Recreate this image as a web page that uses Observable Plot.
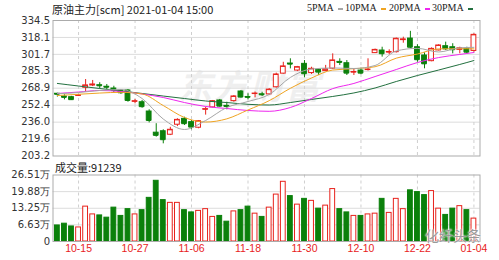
<!DOCTYPE html>
<html><head><meta charset="utf-8">
<script src="https://cdn.jsdelivr.net/npm/d3@7"></script>
<script src="https://cdn.jsdelivr.net/npm/@observablehq/plot@0.6"></script>
<style>
body{margin:0;background:#fff;}
#wrap{position:relative;width:499px;height:260px;overflow:hidden;background:#fff;}
.abs{position:absolute;white-space:nowrap;}
#wrap svg{position:absolute;left:0;background:transparent;}
.dash{display:inline-block;width:5px;height:2px;vertical-align:middle;margin-left:4px;}
</style></head><body><div id="wrap"></div>
<script>
// ---- data ----
const openP  = [263.5,260.8,260.2,261.5,269.3,271.5,271.8,270.3,268.6,266.5,266.7,255.8,255.3,246.3,225.8,227.2,223.8,233.5,239.2,236.0,230.6,248.2,250.3,257.0,251.8,256.4,265.7,260.4,263.3,263.0,262.9,269.8,283.0,292.8,286.0,292.5,283.6,286.7,285.5,287.8,294.4,293.1,284.2,286.0,286.5,302.9,305.4,303.6,303.8,315.5,317.0,308.6,300.6,295.1,305.5,309.6,308.6,306.0,307.0,305.0];
const highP  = [264.0,262.5,261.0,262.5,277.3,276.4,274.2,272.5,270.8,267.5,267.6,258.0,257.0,248.0,234.5,228.6,231.0,239.3,240.8,237.6,237.6,250.5,257.0,258.0,255.3,261.8,266.7,263.5,265.2,265.0,268.5,283.5,294.0,297.4,290.0,295.7,289.2,287.0,291.0,302.2,297.4,295.7,287.7,288.3,297.4,306.8,308.6,306.1,317.5,318.3,324.0,311.0,303.2,308.0,311.0,313.5,312.0,308.6,308.6,321.6];
const lowP   = [260.3,257.6,257.0,261.0,264.8,270.5,268.3,267.3,264.8,263.0,255.3,253.8,249.5,235.3,221.5,215.0,223.0,231.7,232.8,228.6,229.6,242.8,249.8,250.5,248.0,255.3,259.4,257.7,259.6,260.9,262.0,269.0,282.5,287.6,285.0,279.0,282.2,281.2,285.0,287.0,290.9,281.2,281.2,282.0,285.5,302.5,299.0,301.3,303.0,312.5,307.5,294.0,287.7,294.5,305.0,305.4,302.2,302.2,302.2,303.8];
const closeP = [263.0,260.0,257.8,262.0,271.6,272.5,271.2,269.8,266.7,264.5,257.0,256.3,251.0,237.6,223.2,219.0,228.6,238.2,234.5,231.2,236.9,248.6,256.3,251.5,251.2,260.9,260.3,260.0,263.7,262.5,267.5,282.2,290.0,292.2,289.3,282.9,287.7,284.5,287.2,295.8,293.8,283.5,284.6,283.5,287.0,306.0,302.3,304.0,316.8,316.2,308.6,296.5,292.5,307.0,310.3,307.0,306.2,307.5,303.8,320.6];
// volume in 万 (10,000 lots)
const volume = [6.4,7.1,6.0,5.6,13.9,10.8,10.4,9.5,13.5,10.2,12.9,10.8,12.5,17.4,24.2,16.5,15.4,15.4,12.5,11.6,12.2,12.9,9.8,10.2,7.9,12.0,12.5,13.9,11.1,9.8,13.5,18.7,23.8,18.1,14.7,17.0,16.2,13.1,14.3,20.9,12.9,11.6,10.2,10.2,10.8,11.1,17.0,11.4,17.0,12.9,20.4,19.7,18.5,20.1,13.1,10.6,13.1,14.1,12.5,9.1239];
const lastVolume = 91239;

const maIdx = [0,3,6,9,12,15,18,21,24,27,30,33,36,39,42,45,48,51,54,57,59];
const ma5  = [263.5,264.7,266.7,267.6,258.9,239.0,228.9,237.6,250.2,256.0,262.8,279.3,287.5,288.5,288.0,290.9,305.0,307.5,304.0,308.0,308.5];
const ma10 = [261.8,263.0,264.2,264.9,263.3,252.1,240.5,236.1,239.2,247.8,256.8,268.8,278.8,286.5,287.8,289.7,298.0,302.0,307.0,307.2,307.0];
const ma20 = [263.8,265.2,266.7,265.7,263.3,259.9,255.0,251.2,249.2,247.3,246.5,250.2,258.9,268.5,273.5,280.2,287.0,293.8,298.6,301.6,303.5];
const ma30 = [273.5,271.0,268.6,266.2,263.8,261.3,258.9,256.5,255.0,253.3,252.6,255.0,258.0,260.9,264.3,269.1,275.4,281.2,286.5,291.9,295.7];

const priceTicks = [203.2,219.6,236.0,252.4,268.9,285.3,301.7,318.1,334.5];
const volTicks = [0,6.63,13.25,19.88,26.51];
const dateIdx = [3,11,19,27,35,43,51,59];
const dateLabels = ["10-15","10-27","11-06","11-18","11-30","12-10","12-22","01-04"];
const maNames = ["5PMA","10PMA","20PMA","30PMA"];

// ---- styles ----
const RED = "#e8221c", GREEN = "#0b800b";
const maColors = ["#a6a6a6","#f0a422","#ee26ee","#22703f"];
const XDOM = [-0.62, 59.86];
const FONT = "'DejaVu Sans', sans-serif";

const bars = closeP.map((c, i) => ({i, o: openP[i], h: highP[i], l: lowP[i], c, v: volume[i], up: c >= openP[i]}));
const maSeries = [ma5, ma10, ma20, ma30].map((arr, s) => maIdx.map((i, k) => ({i, v: arr[k], s})));

const wrap = document.getElementById("wrap");

const price = Plot.plot({
  width: 499, height: 165,
  marginTop: 20, marginBottom: 9.5, marginLeft: 52.5, marginRight: 19.5,
  x: {type: "linear", domain: XDOM, axis: null},
  y: {domain: [203.2, 334.5], ticks: priceTicks, tickFormat: d => d.toFixed(1), tickSize: 0, tickPadding: 3, label: null},
  color: {type: "identity"},
  style: {fontSize: "10px", fontFamily: FONT, color: "#333", background: "transparent"},
  marks: [
    Plot.ruleY(priceTicks.slice(1, -1), {stroke: "#dcdcdc"}),
    Plot.ruleX(dateIdx, {stroke: "#cfcfcf", strokeDasharray: "3,3"}),
    Plot.ruleX(bars, {x: "i", y1: "l", y2: "h", stroke: d => d.up ? RED : GREEN}),
    Plot.rect(bars, {x1: d => d.i - 0.34, x2: d => d.i + 0.34, y1: "o", y2: "c",
      fill: d => d.up ? "#fff" : GREEN, stroke: d => d.up ? RED : GREEN}),
    Plot.ruleY(bars, {y: "c", x1: d => d.i - 0.34, x2: d => d.i + 0.34, stroke: d => d.up ? RED : GREEN}),
    ...[3, 2, 1, 0].map(s => Plot.line(maSeries[s], {x: "i", y: "v", stroke: maColors[s], strokeWidth: 1, curve: "monotone-x"})),
    Plot.frame({stroke: "#ababab"})
  ]
});
price.style.top = "0px";

const vol = Plot.plot({
  width: 499, height: 100,
  marginTop: 14.5, marginBottom: 19, marginLeft: 52.5, marginRight: 19.5,
  x: {type: "linear", domain: XDOM, axis: null},
  y: {domain: [0, 26.51], ticks: volTicks, tickFormat: d => d === 0 ? "0" : d.toFixed(2) + "万", tickSize: 0, tickPadding: 3, label: null},
  color: {type: "identity"},
  style: {fontSize: "10px", fontFamily: FONT, color: "#333", background: "transparent"},
  marks: [
    Plot.ruleY(volTicks.slice(1, -1), {stroke: "#dcdcdc"}),
    Plot.ruleX(dateIdx, {stroke: "#cfcfcf", strokeDasharray: "3,3"}),
    Plot.rect(bars, {x1: d => d.i - 0.34, x2: d => d.i + 0.34, y1: 0, y2: "v",
      fill: d => d.up ? "#fff" : GREEN, stroke: d => d.up ? RED : GREEN}),
    Plot.text(dateIdx, {x: d => d, text: (d, k) => dateLabels[k], frameAnchor: "bottom", dy: 10.5,
      fill: RED, fontSize: 10.5, fontFamily: "'Liberation Sans', sans-serif"}),
    Plot.frame({stroke: "#ababab"})
  ]
});
vol.style.top = "160px";

// watermark behind
const wm = document.createElement("div");
wm.className = "abs";
wm.style.cssText = "left:178px;top:60px;font:italic bold 34px 'Noto Sans CJK SC';color:#efefef;letter-spacing:2px;";
wm.textContent = "东方财富";
wrap.appendChild(wm);

wrap.appendChild(price);
wrap.appendChild(vol);

// title
const title = document.createElement("div");
title.className = "abs";
title.style.cssText = "left:52px;top:1px;font:11px 'Noto Sans CJK SC';color:#222;";
title.textContent = "原油主力[scm] 2021-01-04 15:00";
wrap.appendChild(title);

// legend
const legX = [307, 345, 389, 432];
maNames.forEach((n, s) => {
  const el = document.createElement("div");
  el.className = "abs";
  el.style.cssText = `left:${legX[s]}px;top:2px;font:10px 'Liberation Serif';color:#222;`;
  el.innerHTML = `${n}<span class="dash" style="background:${maColors[s]}"></span>`;
  wrap.appendChild(el);
});

// volume label
const vl = document.createElement("div");
vl.className = "abs";
vl.style.cssText = "left:55px;top:159px;font:11px 'Noto Sans CJK SC';color:#222;";
vl.textContent = "成交量:" + lastVolume;
wrap.appendChild(vl);

// foreground watermark
const wm2 = document.createElement("div");
wm2.className = "abs";
wm2.style.cssText = "left:425px;top:228px;font:14px/14px 'Noto Sans CJK SC';color:#9a9a9a;text-shadow:0 0 2px #fff,0 0 2px #fff;";
wm2.textContent = "化纤头条";
wrap.appendChild(wm2);
</script></body></html>
